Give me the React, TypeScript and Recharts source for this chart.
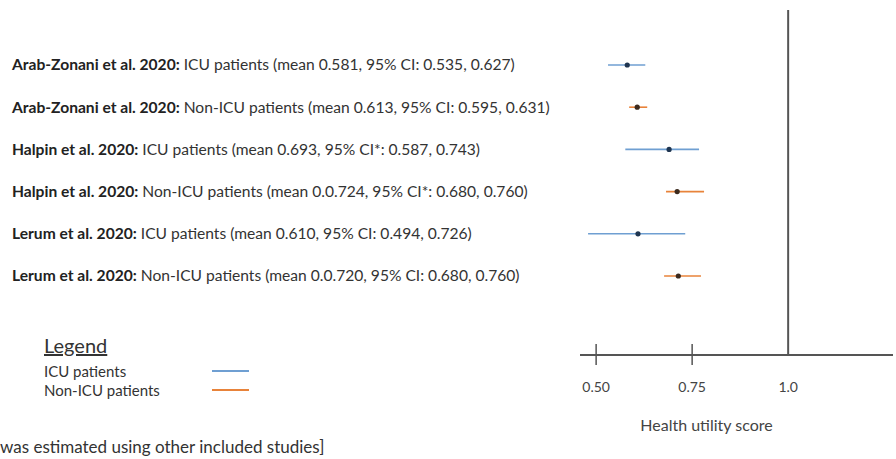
import React from 'react'
import { ScatterChart, Scatter, XAxis, YAxis, ErrorBar, ReferenceLine, Legend } from 'recharts'

// one entry per row, top to bottom
const studies = [
  'Arab-Zonani et al. 2020',
  'Arab-Zonani et al. 2020',
  'Halpin et al. 2020',
  'Halpin et al. 2020',
  'Lerum et al. 2020',
  'Lerum et al. 2020',
]
const groups = ['ICU', 'Non-ICU', 'ICU', 'Non-ICU', 'ICU', 'Non-ICU']
const descriptions = [
  'ICU patients (mean 0.581, 95% CI: 0.535, 0.627)',
  'Non-ICU patients (mean 0.613, 95% CI: 0.595, 0.631)',
  'ICU patients (mean 0.693, 95% CI*: 0.587, 0.743)',
  'Non-ICU patients (mean 0.0.724, 95% CI*: 0.680, 0.760)',
  'ICU patients (mean 0.610, 95% CI: 0.494, 0.726)',
  'Non-ICU patients (mean 0.0.720, 95% CI: 0.680, 0.760)',
]
// where the marks are actually drawn in the figure
const means = [0.581, 0.607, 0.69, 0.711, 0.609, 0.714]
const lows = [0.531, 0.586, 0.576, 0.682, 0.479, 0.677]
const highs = [0.628, 0.633, 0.768, 0.781, 0.732, 0.773]

const xTicks = [0.5, 0.75, 1.0]
const xTickLabels = ['0.50', '0.75', '1.0']

const seriesNames = ['ICU patients', 'Non-ICU patients']

const ICU_COLOR = '#6f9fd2'
const NON_ICU_COLOR = '#e8833a'
const AXIS_COLOR = '#555'
const seriesColors = [ICU_COLOR, NON_ICU_COLOR]

const rows = means.map((m, i) => ({
  row: i,
  mean: m,
  err: [m - lows[i], highs[i] - m],
  group: groups[i],
}))
const icuRows = rows.filter((r) => r.group === 'ICU')
const nonIcuRows = rows.filter((r) => r.group === 'Non-ICU')

const meanDot = (color: string) => (props: any) => (
  <circle cx={props.cx} cy={props.cy} r={2.6} fill={color} />
)

function RowTick({ y, payload }: any) {
  const i = payload.value
  return (
    <text x={12} y={y} dy={5.5} textAnchor="start" fontSize={15.6} fill="#333" style={{ whiteSpace: 'pre' }}>
      <tspan fontWeight="bold" fill="#222">{studies[i] + ':'}</tspan>
      <tspan>{' ' + descriptions[i]}</tspan>
    </text>
  )
}

function ScoreTick({ x, y, payload }: any) {
  const label = xTickLabels[xTicks.indexOf(payload.value)]
  return (
    <g>
      {payload.value < 1 && (
        <line x1={x} x2={x} y1={y - 11} y2={y + 10} stroke={AXIS_COLOR} strokeWidth={1.5} />
      )}
      <text x={x} y={y + 37} textAnchor="middle" fontSize={14} fill="#444">
        {label}
      </text>
    </g>
  )
}

// the payload colour was unreliable, so the legend rows come from our own lists
function LegendBox() {
  return (
    <div style={{ fontFamily: 'Lato', color: '#333' }}>
      <div style={{ fontSize: 20, textDecoration: 'underline', lineHeight: '24px' }}>Legend</div>
      <div style={{ paddingTop: 4 }}>
        {seriesNames.map((name, i) => (
          <div key={name} style={{ display: 'flex', alignItems: 'center', height: 19, fontSize: 15 }}>
            <span style={{ width: 168 }}>{name}</span>
            <span style={{ width: 37, height: 2, background: seriesColors[i] }} />
          </div>
        ))}
      </div>
    </div>
  )
}

export default function App() {
  return (
    <div style={{ position: 'absolute', left: 0, top: 0, width: 896, height: 459, background: '#fff', fontFamily: 'Lato', overflow: 'hidden' }}>
      <ScatterChart
        width={896}
        height={459}
        margin={{ top: 10, right: 3, bottom: 0, left: 0 }}
        style={{ fontFamily: 'Lato' }}
      >
        <XAxis
          type="number"
          dataKey="mean"
          domain={[0.458, 1.273]}
          allowDataOverflow
          ticks={xTicks}
          tick={<ScoreTick />}
          tickLine={false}
          tickSize={0}
          tickMargin={0}
          height={104}
          axisLine={{ stroke: AXIS_COLOR, strokeWidth: 1.8 }}
          label={{ value: 'Health utility score', position: 'insideBottom', offset: 28, dx: -30, fill: '#444', fontSize: 16 }}
        />
        <YAxis
          type="number"
          dataKey="row"
          domain={[-1.303, 6.872]}
          allowDataOverflow
          reversed
          ticks={[0, 1, 2, 3, 4, 5]}
          tick={<RowTick />}
          tickLine={false}
          axisLine={false}
          width={580}
        />
        <ReferenceLine x={1} stroke={AXIS_COLOR} strokeWidth={2} />
        <Scatter
          name={seriesNames[0]}
          data={icuRows}
          fill={ICU_COLOR}
          legendType="line"
          shape={meanDot('#1f3550')}
          isAnimationActive={false}
        >
          <ErrorBar dataKey="err" direction="x" width={0} stroke={ICU_COLOR} strokeWidth={1.6} isAnimationActive={false} />
        </Scatter>
        <Scatter
          name={seriesNames[1]}
          data={nonIcuRows}
          fill={NON_ICU_COLOR}
          legendType="line"
          shape={meanDot('#3b2a1e')}
          isAnimationActive={false}
        >
          <ErrorBar dataKey="err" direction="x" width={0} stroke={NON_ICU_COLOR} strokeWidth={1.6} isAnimationActive={false} />
        </Scatter>
        <Legend
          layout="horizontal"
          align="center"
          verticalAlign="middle"
          content={<LegendBox />}
          wrapperStyle={{ position: 'absolute', left: 44, top: 333, width: 230 }}
        />
      </ScatterChart>
      <div style={{ position: 'absolute', left: 0, top: 437, fontSize: 17, lineHeight: '20px', color: '#333', whiteSpace: 'nowrap' }}>
        was estimated using other included studies]
      </div>
    </div>
  )
}
